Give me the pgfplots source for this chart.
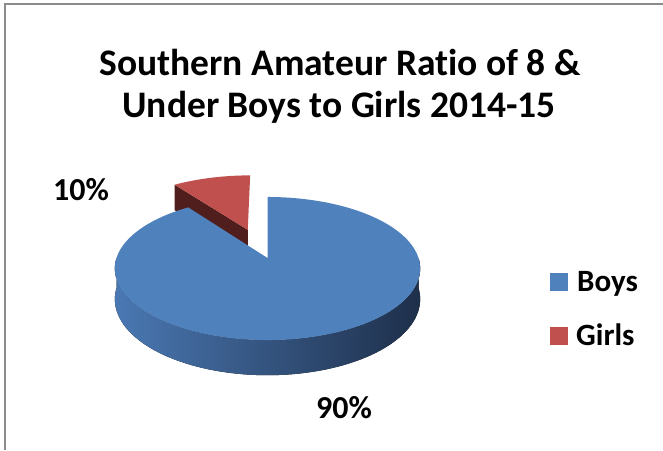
\documentclass[border=0pt]{standalone}
\usepackage{pgfplots}
\pgfplotsset{compat=1.18}
\usepackage{pgfplotstable}
\usepackage{fontspec}
\setmainfont{Carlito}[Ligatures=NoCommon]
\definecolor{boystop}{HTML}{4F81BD}
\definecolor{boysL}{HTML}{4A78B3}
\definecolor{boysM}{HTML}{33547F}
\definecolor{boysR}{HTML}{1E2F4A}
\definecolor{girlstop}{HTML}{C0504D}
\definecolor{girlsside}{HTML}{4F1E1D}
\definecolor{frame}{HTML}{8C8C8C}

\pgfplotstableread{
label value
Boys 90
Girls 10
}\piedata
\pgfplotstablegetelem{1}{value}\of\piedata
\pgfmathsetmacro{\girlsval}{\pgfplotsretval}
\pgfmathsetmacro{\gend}{90+3.6*\girlsval}
\pgfmathsetmacro{\gmid}{90+1.8*\girlsval}
\pgfmathsetmacro{\bend}{450}
\pgfmathsetmacro{\ex}{0.45*cos(\gmid)}
\pgfmathsetmacro{\ez}{0.45*sin(\gmid)}

% perspective projection of a point on the pie disk (a = x offset, b = depth offset, t = angle)
\def\PX#1#2#3{267.5+151*(#1+cos(#3))/(1+0.147*(#2+sin(#3)))}
\def\PY#1#2#3{192+70*(#2+sin(#3))/(1+0.147*(#2+sin(#3)))}
\def\PYb#1#2#3{192+(70*(#2+sin(#3))-30)/(1+0.147*(#2+sin(#3)))}

\begin{document}
\begin{tikzpicture}
\begin{axis}[x=1pt,y=1pt,xmin=0,xmax=663,ymin=0,ymax=450,hide axis,clip=false,
  at={(0,0)},anchor=south west]
% frame
\draw[frame,line width=1.6pt] (5,0) -- (5,446) -- (663,446);
% Girls slice (exploded): cut face then top face
\fill[girlsside]
  ({267.5+151*\ex/(1+0.147*\ez)},{192+70*\ez/(1+0.147*\ez)}) --
  ({\PX{\ex}{\ez}{\gend}},{\PY{\ex}{\ez}{\gend}}) --
  ({\PX{\ex}{\ez}{\gend}},{\PYb{\ex}{\ez}{\gend}}) --
  ({267.5+151*\ex/(1+0.147*\ez)},{192+(70*\ez-30)/(1+0.147*\ez)}) -- cycle;
\fill[girlstop]
  ({267.5+151*\ex/(1+0.147*\ez)},{192+70*\ez/(1+0.147*\ez)}) --
  plot[domain=90:\gend,samples=20,variable=\t] ({\PX{\ex}{\ez}{\t}},{\PY{\ex}{\ez}{\t}}) -- cycle;
% Boys side wall
\fill[left color=boysL,middle color=boysM,right color=boysR]
  plot[domain=180:360,samples=80,variable=\t] ({\PX{0}{0}{\t}},{\PY{0}{0}{\t}}) --
  plot[domain=360:180,samples=80,variable=\t] ({\PX{0}{0}{\t}},{\PYb{0}{0}{\t}}) -- cycle;
% Boys top face
\fill[boystop] (267.5,192) --
  plot[domain=\gend:\bend,samples=140,variable=\t] ({\PX{0}{0}{\t}},{\PY{0}{0}{\t}}) -- cycle;
% title
\node[anchor=base,inner sep=0pt,font=\fontsize{37.5}{44}\selectfont\bfseries] at (340,374) {Southern Amateur Ratio of 8 \&};
\node[anchor=base,inner sep=0pt,font=\fontsize{37.5}{44}\selectfont\bfseries] at (339,332) {Under Boys to Girls 2014-15};
% data labels
\node[anchor=base west,inner sep=0pt,font=\fontsize{32}{38}\selectfont\bfseries] at (53,249) {10\%};
\node[anchor=base west,inner sep=0pt,font=\fontsize{32}{38}\selectfont\bfseries] at (316,32) {90\%};
% legend
\fill[boystop] (550,159) rectangle (568,177);
\fill[girlstop] (550,105) rectangle (568,123);
\node[anchor=base west,inner sep=0pt,font=\fontsize{31}{36}\selectfont\bfseries] at (577,159) {Boys};
\node[anchor=base west,inner sep=0pt,font=\fontsize{31}{36}\selectfont\bfseries] at (576,105) {Girls};
\end{axis}
\pgfresetboundingbox
\path (0,0) rectangle (663pt,450pt);
\end{tikzpicture}
\end{document}
